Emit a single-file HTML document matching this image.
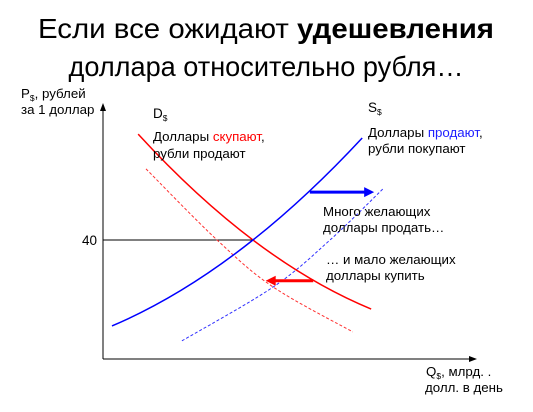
<!DOCTYPE html>
<html><head><meta charset="utf-8"><style>
html,body{margin:0;padding:0;background:#fff;}
svg{display:block;font-family:"Liberation Sans","DejaVu Sans",sans-serif;}
</style></head><body>
<svg id="chart" width="533" height="412" viewBox="0 0 533 412" xmlns="http://www.w3.org/2000/svg">
<text x="266" y="38" text-anchor="middle" font-size="28" textLength="456" lengthAdjust="spacingAndGlyphs">Если все ожидают <tspan font-weight="bold">удешевления</tspan></text>
<text x="266" y="76" text-anchor="middle" font-size="28" textLength="395" lengthAdjust="spacingAndGlyphs">доллара относительно рубля…</text>
<g id="axes">
<line x1="103" y1="359" x2="103" y2="110" stroke="#000" stroke-width="1"/>
<polygon points="100,111 103,103 106,111" fill="#000"/>
<line x1="103" y1="359" x2="470" y2="359" stroke="#000" stroke-width="1"/>
<polygon points="469,356 477,359 469,362" fill="#000"/>
</g>
<text font-size="13.3"><tspan x="21" y="98">P<tspan font-size="8.5" dy="3">$</tspan><tspan dy="-3">, рублей</tspan></tspan><tspan x="21" y="114">за 1 доллар</tspan></text>
<text font-size="13.3"><tspan x="426" y="376">Q<tspan font-size="8.5" dy="3">$</tspan><tspan dy="-3">, млрд. .</tspan></tspan><tspan x="425" y="392">долл. в день</tspan></text>
<text x="97" y="245" text-anchor="end" font-size="13.5">40</text>
<g id="marks"></g>
<text x="153" y="118" font-size="13.5">D<tspan font-size="8.5" dy="3">$</tspan></text>
<text x="368" y="112" font-size="13.5">S<tspan font-size="8.5" dy="3">$</tspan></text>
<text font-size="13.3"><tspan x="153" y="141">Доллары <tspan fill="#ff0000">скупают</tspan>,</tspan><tspan x="153" y="158">рубли продают</tspan></text>
<text font-size="13.3"><tspan x="368" y="137">Доллары <tspan fill="#2020ff">продают</tspan>,</tspan><tspan x="368" y="153">рубли покупают</tspan></text>
<text font-size="13.3"><tspan x="323" y="216">Много желающих</tspan><tspan x="323" y="232">доллары продать…</tspan></text>
<text font-size="13.3"><tspan x="326" y="264">… и мало желающих</tspan><tspan x="326" y="280">доллары купить</tspan></text>
</svg>
<script>
const demandQ=[0.94,4.01,7.17];
const demandP=[75.6,40,16.8];
const supplyQ=[0.24,4.01,6.93];
const supplyP=[11.1,40,74.3];
const demand2Q=[1.15,3.05,4.55,6.68];
const demand2P=[63.9,40,24.2,9.1];
const supply2Q=[2.11,4.55,6.07,7.51];
const supply2P=[6.1,24.2,40,57.5];
const equilibriumQ=[4.01];
const equilibriumP=[40];
const arrowSupplyQ=[5.53,7.25];
const arrowSupplyP=[56.1,56.1];
const arrowDemandQ=[5.62,4.35];
const arrowDemandP=[26.3,26.3];

const sx=q=>103+q*37.4;
const sy=p=>359-p*2.975;
const NS='http://www.w3.org/2000/svg';
const g=document.getElementById('marks');
function spline(Q,P){
  const pts=Q.map((q,i)=>[sx(q),sy(P[i])]);
  let d='M'+pts[0][0]+','+pts[0][1];
  for(let i=0;i<pts.length-1;i++){
    const p0=pts[i-1]||pts[i],p1=pts[i],p2=pts[i+1],p3=pts[i+2]||p2;
    const c1=[p1[0]+(p2[0]-p0[0])/6,p1[1]+(p2[1]-p0[1])/6];
    const c2=[p2[0]-(p3[0]-p1[0])/6,p2[1]-(p3[1]-p1[1])/6];
    d+=' C'+c1+' '+c2+' '+p2;
  }
  return d;
}
function quad(Q,P){
  const A=[sx(Q[0]),sy(P[0])],M=[sx(Q[1]),sy(P[1])],B=[sx(Q[2]),sy(P[2])];
  const t=(M[0]-A[0])/(B[0]-A[0]);
  const k=2*t*(1-t);
  const C=[(M[0]-(1-t)*(1-t)*A[0]-t*t*B[0])/k,(M[1]-(1-t)*(1-t)*A[1]-t*t*B[1])/k];
  return 'M'+A+' Q'+C+' '+B;
}
function curve(d,color,w,dash,name){
  const el=document.createElementNS(NS,'path');
  el.setAttribute('d',d);
  el.setAttribute('fill','none');
  el.setAttribute('stroke',color);
  el.setAttribute('stroke-width',w);
  if(dash)el.setAttribute('stroke-dasharray',dash);
  
  
  g.appendChild(el);
}
const h=document.createElementNS(NS,'line');
h.setAttribute('x1',sx(0));h.setAttribute('x2',sx(equilibriumQ[0]));
h.setAttribute('y1',sy(equilibriumP[0]));h.setAttribute('y2',sy(equilibriumP[0]));
h.setAttribute('stroke','#000');h.setAttribute('stroke-width','1');


g.appendChild(h);
curve(spline(demand2Q,demand2P),'#ff3030',1,'3,2','demand-curve-shifted');
curve(spline(supply2Q,supply2P),'#3030ff',1,'3,2','supply-curve-shifted');
curve(quad(demandQ,demandP),'#ff0000',1.5,null,'demand-curve');
curve(quad(supplyQ,supplyP),'#0000ff',1.5,null,'supply-curve');
function arrow(Q,P,color,name){
  const x1=sx(Q[0]),x2=sx(Q[1]),y=sy(P[0]);
  const dir=x2>x1?1:-1;
  const l=document.createElementNS(NS,'line');
  l.setAttribute('x1',x1);l.setAttribute('x2',x2-dir*8);
  l.setAttribute('y1',y);l.setAttribute('y2',y);
  l.setAttribute('stroke',color);l.setAttribute('stroke-width','3');
  
  
  g.appendChild(l);
  const t=document.createElementNS(NS,'polygon');
  t.setAttribute('points',(x2-dir*10)+','+(y-5)+' '+x2+','+y+' '+(x2-dir*10)+','+(y+5));
  t.setAttribute('fill',color);
  
  
  g.appendChild(t);
}
arrow(arrowSupplyQ,arrowSupplyP,'#0000ff','supply-shift-arrow');
arrow(arrowDemandQ,arrowDemandP,'#ff0000','demand-shift-arrow');
</script>
</body></html>
